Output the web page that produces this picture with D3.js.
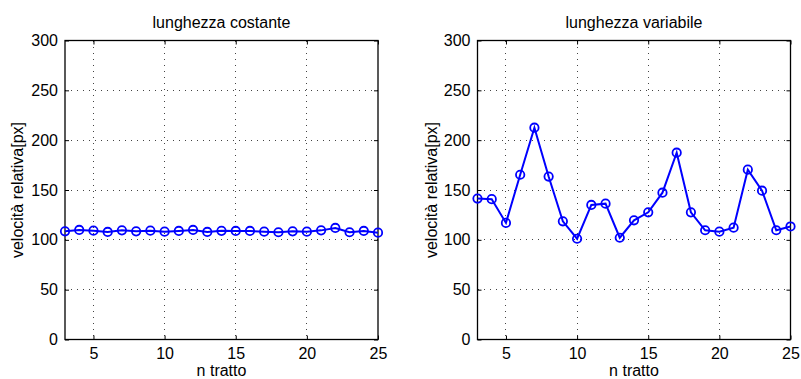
<!DOCTYPE html>
<html>
<head>
<meta charset="utf-8">
<script src="https://cdn.jsdelivr.net/npm/d3@7"></script>
<style>
  html, body { margin: 0; padding: 0; background: #fff; }
  svg { display: block; font-family: "Liberation Sans", Arial, Helvetica, sans-serif; }
</style>
</head>
<body>
<svg id="chart" width="801" height="379"></svg>
<script>
// segment index (n tratto)
const tratti = d3.range(3, 26);
// relative speed, constant segment length
const velCostante = [108.5, 109.9, 109.2, 107.9, 109.5, 108.5, 109.2, 108.2, 108.9, 109.9, 107.9,
  109.0, 108.9, 108.9, 108.2, 107.6, 108.5, 108.2, 109.5, 111.9, 107.6, 108.9, 107.2];
// relative speed, variable segment length
const velVariabile = [141.4, 140.8, 117.0, 165.3, 212.5, 163.5, 118.6, 101.1, 135.0, 136.3, 102.1,
  119.6, 127.6, 147.3, 187.4, 127.6, 109.6, 108.2, 112.2, 170.4, 149.3, 109.6, 113.4];
const titoli = ["lunghezza costante", "lunghezza variabile"];
const xTicks = [5, 10, 15, 20, 25];
const yTicks = [0, 50, 100, 150, 200, 250, 300];
const xLabel = "n tratto";
const yLabel = "velocità relativa[px]";

const svg = d3.select("#chart");
const plotTop = 40.5, plotBottom = 339.5;
const panels = [
  { left: 65, right: 378, values: velCostante, title: titoli[0], ylabX: 23 },
  { left: 477.5, right: 790.5, values: velVariabile, title: titoli[1], ylabX: 437 }
];
const blue = "#0000ff";
const fs = 16;

panels.forEach(p => {
  const x = d3.scaleLinear().domain([3, 25]).range([p.left, p.right]);
  const y = d3.scaleLinear().domain([0, 300]).range([plotBottom, plotTop]);
  const g = svg.append("g");

  // dotted grid
  g.append("g").selectAll("line").data(xTicks.filter(t => t > 3 && t < 25)).join("line")
    .attr("x1", d => x(d)).attr("x2", d => x(d)).attr("y1", plotTop).attr("y2", plotBottom)
    .attr("stroke", "#444").attr("stroke-width", 1).attr("stroke-dasharray", "1,5")
    .attr("shape-rendering", "crispEdges");
  g.append("g").selectAll("line").data(yTicks.filter(t => t > 0 && t < 300)).join("line")
    .attr("x1", p.left).attr("x2", p.right).attr("y1", d => y(d)).attr("y2", d => y(d))
    .attr("stroke", "#444").attr("stroke-width", 1).attr("stroke-dasharray", "1,5")
    .attr("shape-rendering", "crispEdges");

  // axes with inward ticks
  const xAx = d3.axisBottom(x).tickValues(xTicks).tickSize(-4).tickPadding(8).tickFormat(d3.format("d"));
  const xAxTop = d3.axisTop(x).tickValues(xTicks).tickSize(-4).tickFormat("");
  const yAx = d3.axisLeft(y).tickValues(yTicks).tickSize(-4).tickPadding(7).tickFormat(d3.format("d"));
  const yAxR = d3.axisRight(y).tickValues(yTicks).tickSize(-4).tickFormat("");

  const styleAxis = sel => {
    sel.select(".domain").remove();
    sel.selectAll(".tick line").attr("stroke", "#000").attr("stroke-width", 1);
    sel.selectAll("text").attr("fill", "#000").style("font-size", fs + "px")
      .style("font-family", "'Liberation Sans', Arial, sans-serif");
  };
  g.append("g").attr("transform", `translate(0,${plotBottom})`).call(xAx).call(styleAxis);
  g.append("g").attr("transform", `translate(0,${plotTop})`).call(xAxTop).call(styleAxis);
  g.append("g").attr("transform", `translate(${p.left},0)`).call(yAx).call(styleAxis);
  g.append("g").attr("transform", `translate(${p.right},0)`).call(yAxR).call(styleAxis);

  // frame
  g.append("rect").attr("x", p.left).attr("y", plotTop)
    .attr("width", p.right - p.left).attr("height", plotBottom - plotTop)
    .attr("fill", "none").attr("stroke", "#000").attr("stroke-width", 1.3);

  // data line and circle markers
  const pts = tratti.map((t, i) => [t, p.values[i]]);
  g.append("path").datum(pts)
    .attr("d", d3.line().x(d => x(d[0])).y(d => y(d[1])))
    .attr("fill", "none").attr("stroke", blue).attr("stroke-width", 2);
  g.append("g").selectAll("circle").data(pts).join("circle")
    .attr("cx", d => x(d[0])).attr("cy", d => y(d[1])).attr("r", 4.2)
    .attr("fill", "none").attr("stroke", blue).attr("stroke-width", 1.8);

  // title and axis labels
  g.append("text").attr("x", (p.left + p.right) / 2).attr("y", 27.5)
    .attr("text-anchor", "middle").style("font-size", fs + "px").text(p.title);
  g.append("text").attr("x", (p.left + p.right) / 2).attr("y", 376)
    .attr("text-anchor", "middle").style("font-size", fs + "px").text(xLabel);
  g.append("text").attr("transform", `translate(${p.ylabX},${(plotTop + plotBottom) / 2}) rotate(-90)`)
    .attr("text-anchor", "middle").style("font-size", fs + "px").text(yLabel);
});
</script>
</body>
</html>
